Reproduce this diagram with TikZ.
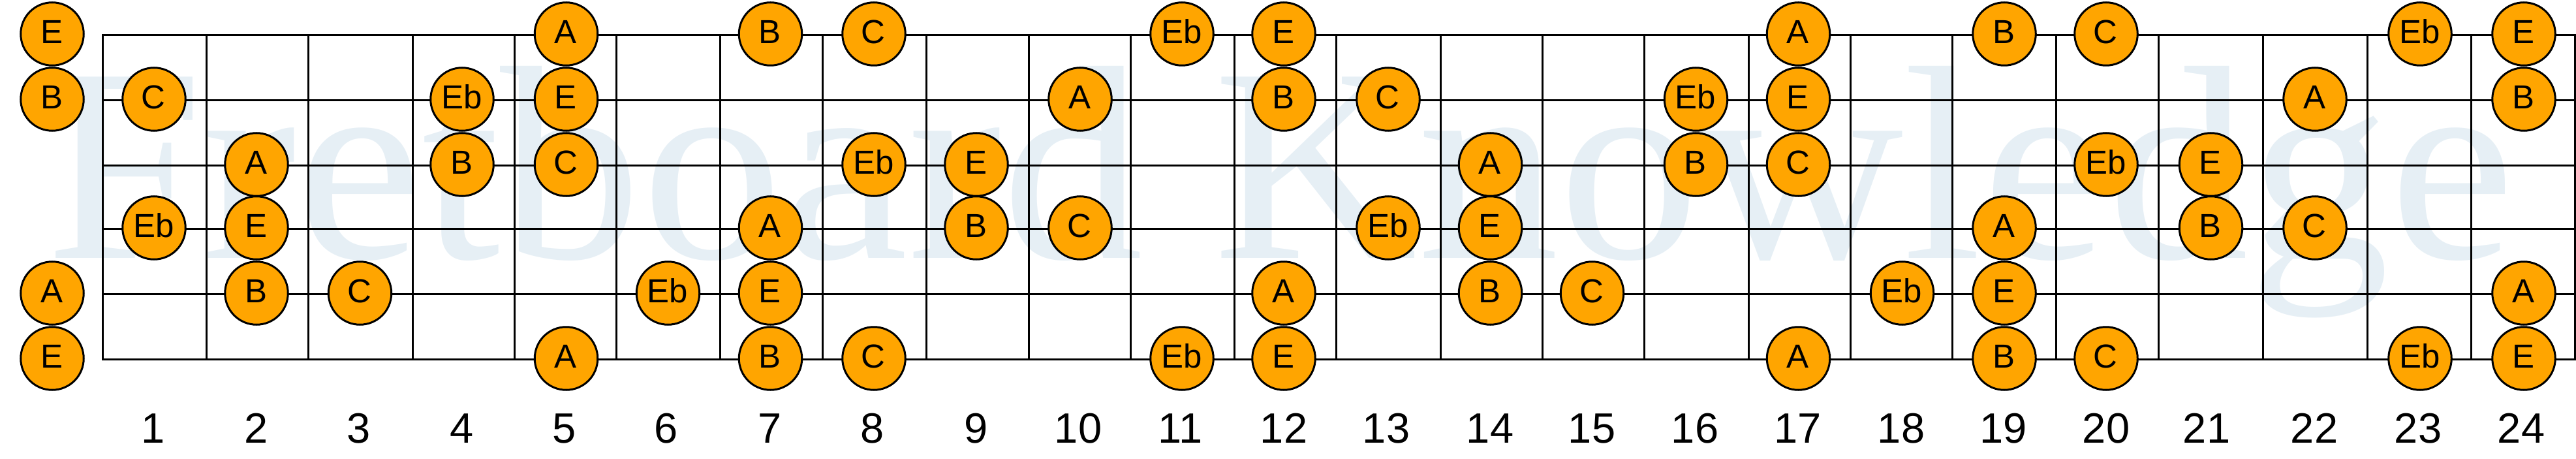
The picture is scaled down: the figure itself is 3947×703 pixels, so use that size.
\documentclass[tikz,border=0pt]{standalone}
\usepackage{fontspec}
\setmainfont{Liberation Sans}
\newfontfamily\wmfont[Kerning=Off]{Liberation Serif}
\definecolor{noteorange}{HTML}{FFA500}
\definecolor{wmblue}{HTML}{E6EFF5}
\begin{document}
\begin{tikzpicture}[
    x=1pt, y=-1pt,
    note/.style={circle, draw=black, line width=3pt, fill=noteorange, minimum size=96.5pt, inner sep=0pt,
        font=\fontsize{51}{51}\selectfont, text height=35pt, text depth=5.4pt, execute at end node={\hspace{1.5pt}}},
    fretnum/.style={anchor=base, inner sep=0pt, font=\fontsize{65}{65}\selectfont},
    wmark/.style={anchor=base west, inner sep=0pt, text=wmblue, xscale=1.02, font=\wmfont\fontsize{424}{424}\selectfont},
    wire/.style={line width=3pt, line cap=rect}
]
\useasboundingbox (0,0) rectangle (3947,703);

% Watermark
\node[wmark] (title) at (70,395.5) {Fretboard Knowledge};

% Strings
\draw[wire] (157,53.4) -- (3945,53.4);
\draw[wire] (157,153.4) -- (3945,153.4);
\draw[wire] (157,253.4) -- (3945,253.4);
\draw[wire] (157,350) -- (3945,350);
\draw[wire] (157,450) -- (3945,450);
\draw[wire] (157,550) -- (3945,550);

% Frets
\draw[wire] (157,53.4) -- (157,550);
\draw[wire] (316,53.4) -- (316,550);
\draw[wire] (472.5,53.4) -- (472.5,550);
\draw[wire] (632,53.4) -- (632,550);
\draw[wire] (788,53.4) -- (788,550);
\draw[wire] (944,53.4) -- (944,550);
\draw[wire] (1103,53.4) -- (1103,550);
\draw[wire] (1260,53.4) -- (1260,550);
\draw[wire] (1419,53.4) -- (1419,550);
\draw[wire] (1576,53.4) -- (1576,550);
\draw[wire] (1732,53.4) -- (1732,550);
\draw[wire] (1891,53.4) -- (1891,550);
\draw[wire] (2047,53.4) -- (2047,550);
\draw[wire] (2207,53.4) -- (2207,550);
\draw[wire] (2363,53.4) -- (2363,550);
\draw[wire] (2519,53.4) -- (2519,550);
\draw[wire] (2679,53.4) -- (2679,550);
\draw[wire] (2835,53.4) -- (2835,550);
\draw[wire] (2991,53.4) -- (2991,550);
\draw[wire] (3150,53.4) -- (3150,550);
\draw[wire] (3307,53.4) -- (3307,550);
\draw[wire] (3467,53.4) -- (3467,550);
\draw[wire] (3627,53.4) -- (3627,550);
\draw[wire] (3786,53.4) -- (3786,550);
\draw[wire] (3945,53.4) -- (3945,550);

% String 1
\node[note] (s1open) at (80,52) {E};
\node[note] (s1f5) at (867.5,52) {A};
\node[note] (s1f7) at (1180.5,52) {B};
\node[note] (s1f8) at (1339,52) {C};
\node[note] (s1f11) at (1811,52) {Eb};
\node[note] (s1f12) at (1967,52) {E};
\node[note] (s1f17) at (2755.5,52) {A};
\node[note] (s1f19) at (3071,52) {B};
\node[note] (s1f20) at (3227,52) {C};
\node[note] (s1f23) at (3708,52) {Eb};
\node[note] (s1f24) at (3867,52) {E};

% String 2
\node[note] (s2open) at (80,152) {B};
\node[note] (s2f1) at (236,152) {C};
\node[note] (s2f4) at (708,152) {Eb};
\node[note] (s2f5) at (867.5,152) {E};
\node[note] (s2f10) at (1655,152) {A};
\node[note] (s2f12) at (1967,152) {B};
\node[note] (s2f13) at (2127,152) {C};
\node[note] (s2f16) at (2598.5,152) {Eb};
\node[note] (s2f17) at (2755.5,152) {E};
\node[note] (s2f22) at (3547,152) {A};
\node[note] (s2f24) at (3867,152) {B};

% String 3
\node[note] (s3f2) at (393,252) {A};
\node[note] (s3f4) at (708,252) {B};
\node[note] (s3f5) at (867.5,252) {C};
\node[note] (s3f8) at (1339,252) {Eb};
\node[note] (s3f9) at (1496,252) {E};
\node[note] (s3f14) at (2283.5,252) {A};
\node[note] (s3f16) at (2598.5,252) {B};
\node[note] (s3f17) at (2755.5,252) {C};
\node[note] (s3f20) at (3227,252) {Eb};
\node[note] (s3f21) at (3387.5,252) {E};

% String 4
\node[note] (s4f1) at (236,349) {Eb};
\node[note] (s4f2) at (393,349) {E};
\node[note] (s4f7) at (1180.5,349) {A};
\node[note] (s4f9) at (1496,349) {B};
\node[note] (s4f10) at (1655,349) {C};
\node[note] (s4f13) at (2127,349) {Eb};
\node[note] (s4f14) at (2283.5,349) {E};
\node[note] (s4f19) at (3071,349) {A};
\node[note] (s4f21) at (3387.5,349) {B};
\node[note] (s4f22) at (3547,349) {C};

% String 5
\node[note] (s5open) at (80,449) {A};
\node[note] (s5f2) at (393,449) {B};
\node[note] (s5f3) at (551.5,449) {C};
\node[note] (s5f6) at (1023.5,449) {Eb};
\node[note] (s5f7) at (1180.5,449) {E};
\node[note] (s5f12) at (1967,449) {A};
\node[note] (s5f14) at (2283.5,449) {B};
\node[note] (s5f15) at (2439.5,449) {C};
\node[note] (s5f18) at (2914.5,449) {Eb};
\node[note] (s5f19) at (3071,449) {E};
\node[note] (s5f24) at (3867,449) {A};

% String 6
\node[note] (s6open) at (80,549) {E};
\node[note] (s6f5) at (867.5,549) {A};
\node[note] (s6f7) at (1180.5,549) {B};
\node[note] (s6f8) at (1339,549) {C};
\node[note] (s6f11) at (1811,549) {Eb};
\node[note] (s6f12) at (1967,549) {E};
\node[note] (s6f17) at (2755.5,549) {A};
\node[note] (s6f19) at (3071,549) {B};
\node[note] (s6f20) at (3227,549) {C};
\node[note] (s6f23) at (3708,549) {Eb};
\node[note] (s6f24) at (3867,549) {E};

% Fret numbers
\node[fretnum] (num1) at (234.5,678.5) {1};
\node[fretnum] (num2) at (393,678.5) {2};
\node[fretnum] (num3) at (549.5,678.5) {3};
\node[fretnum] (num4) at (707.5,678.5) {4};
\node[fretnum] (num5) at (865,678.5) {5};
\node[fretnum] (num6) at (1021,678.5) {6};
\node[fretnum] (num7) at (1180,678.5) {7};
\node[fretnum] (num8) at (1336.5,678.5) {8};
\node[fretnum] (num9) at (1496,678.5) {9};
\node[fretnum] (num10) at (1652,678.5) {10};
\node[fretnum] (num11) at (1808.5,678.5) {11};
\node[fretnum] (num12) at (1967,678.5) {12};
\node[fretnum] (num13) at (2124,678.5) {13};
\node[fretnum] (num14) at (2283,678.5) {14};
\node[fretnum] (num15) at (2439,678.5) {15};
\node[fretnum] (num16) at (2597,678.5) {16};
\node[fretnum] (num17) at (2754.5,678.5) {17};
\node[fretnum] (num18) at (2913,678.5) {18};
\node[fretnum] (num19) at (3069.5,678.5) {19};
\node[fretnum] (num20) at (3227,678.5) {20};
\node[fretnum] (num21) at (3381,678.5) {21};
\node[fretnum] (num22) at (3546,678.5) {22};
\node[fretnum] (num23) at (3705,678.5) {23};
\node[fretnum] (num24) at (3863,678.5) {24};

\end{tikzpicture}
\end{document}
